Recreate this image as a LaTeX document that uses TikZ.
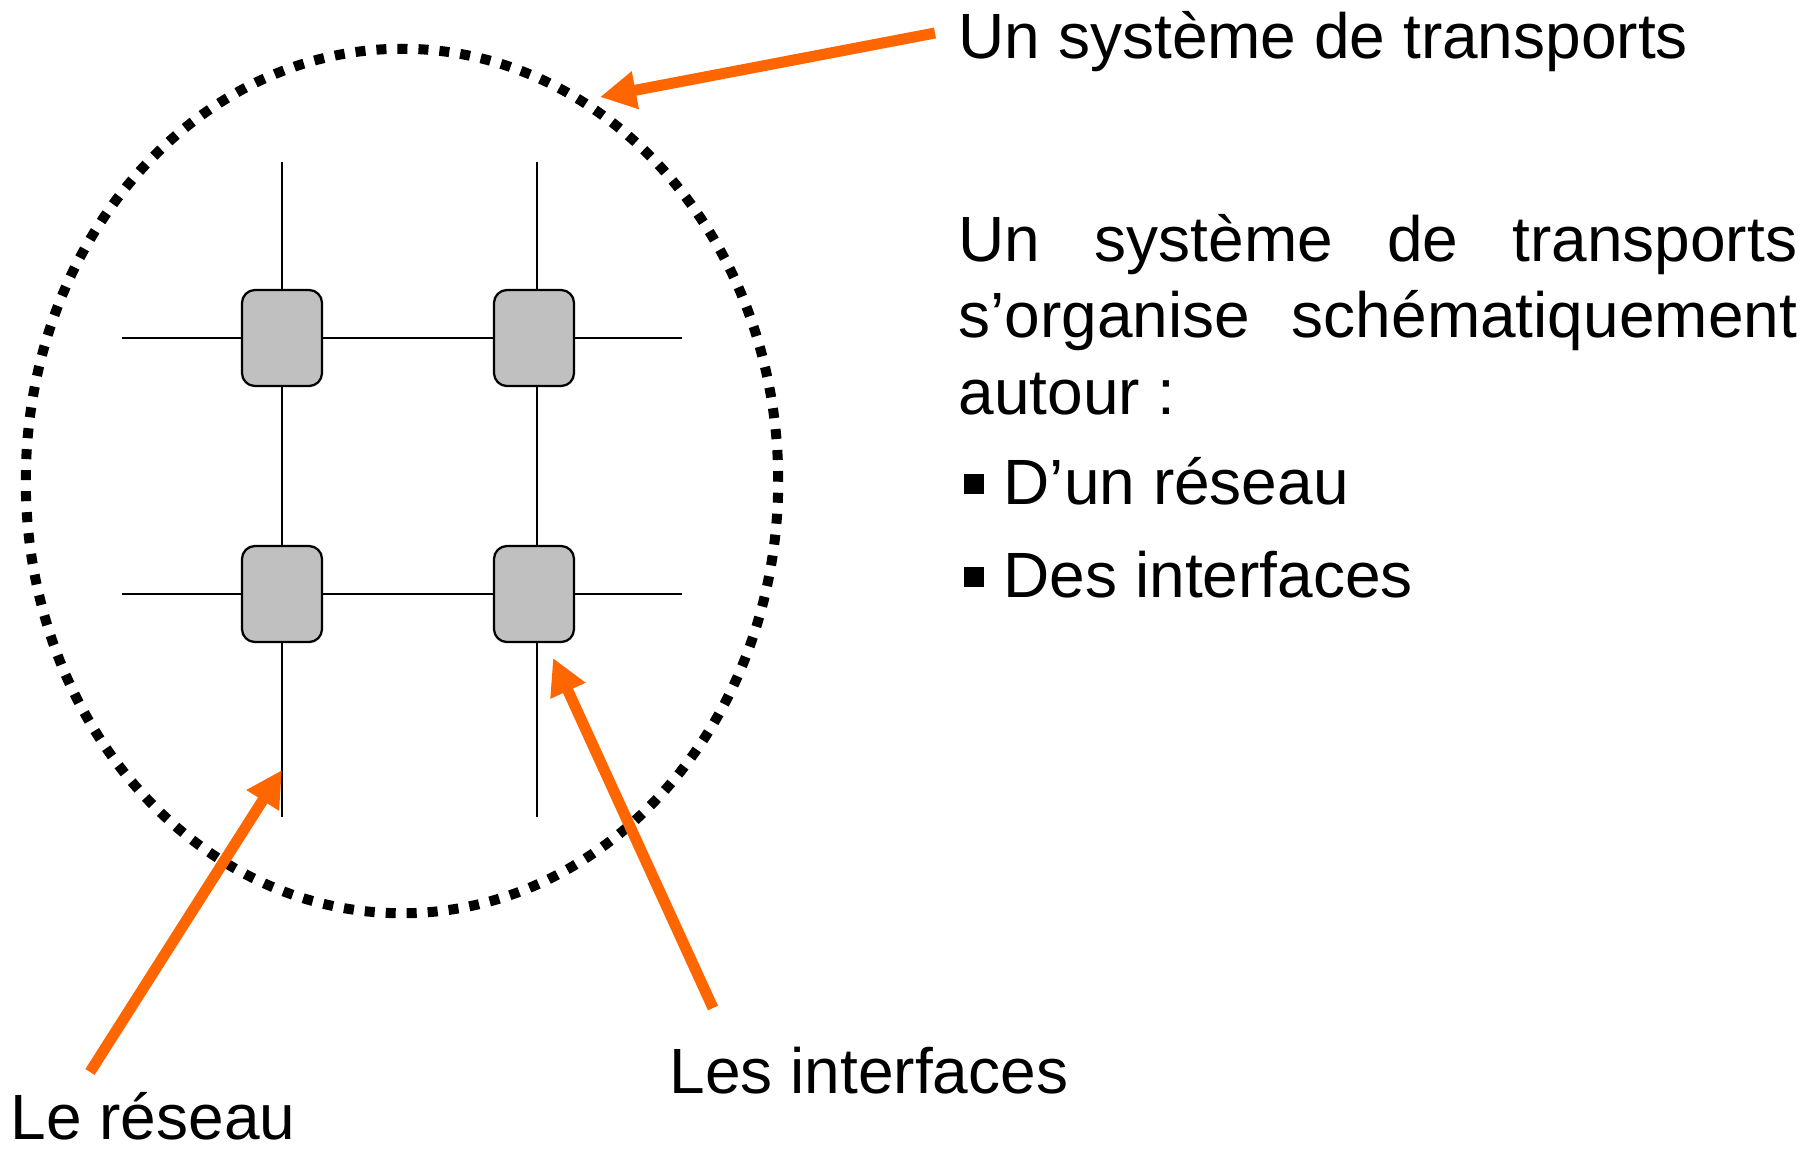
\documentclass[tikz,border=0pt]{standalone}
\usepackage{fontspec}
\setmainfont{Liberation Sans}
\usetikzlibrary{arrows.meta}
\definecolor{orangefleche}{RGB}{255,102,0}
\definecolor{grisnoeud}{RGB}{192,192,192}
\tikzset{
  texte/.style={inner sep=0pt, anchor=base west, font=\fontsize{18.2pt}{21.8pt}\selectfont},
  noeud/.style={draw, line width=0.65pt, fill=grisnoeud, rounded corners=0.13cm,
    minimum width=0.8cm, minimum height=0.96cm, inner sep=0pt},
  voie/.style={line width=0.5pt},
  fleche/.style={orangefleche, line width=0.11cm, -{Triangle[length=0.36cm,width=0.36cm]}}
}
\newcommand{\carre}{\rule[0.1cm]{0.2cm}{0.2cm}\hspace{0.2cm}}
\begin{document}
\begin{tikzpicture}[x=0.01cm, y=-0.01cm]
   \useasboundingbox (0,0) rectangle (1818,1148);
   % le systeme
   \draw[line width=0.1cm, dash pattern=on 0.1cm off 0.11cm] (402,481) ellipse [x radius=3.76cm, y radius=4.32cm];
   % le reseau
   \coordinate (v1h) at (282,162); \coordinate (v1b) at (282,817);
   \coordinate (v2h) at (537,162); \coordinate (v2b) at (537,817);
   \coordinate (h1g) at (122,338); \coordinate (h1d) at (682,338);
   \coordinate (h2g) at (122,594); \coordinate (h2d) at (682,594);
   \draw[voie] (v1h) -- (v1b);
   \draw[voie] (v2h) -- (v2b);
   \draw[voie] (h1g) -- (h1d);
   \draw[voie] (h2g) -- (h2d);
   % les interfaces
   \node[noeud] (i11) at (282,338) {};
   \node[noeud] (i12) at (534,338) {};
   \node[noeud] (i21) at (282,594) {};
   \node[noeud] (i22) at (534,594) {};
   % textes
   \node[texte] (titre) at (958,58) {Un système de transports};
   \node[texte, text width=8.38cm, align=justify] (para) at (958,261)
      {Un système de transports s’organise schématiquement autour~:};
   \node[texte] (pres) at (963,504) {\carre D’un réseau};
   \node[texte] (pint) at (963,597) {\carre Des interfaces};
   \node[texte] (lres) at (10,1139) {Le réseau};
   \node[texte] (lint) at (669,1093) {Les interfaces};
   % fleches
   \coordinate (qsys) at (935,33);   \coordinate (psys) at (600,97);
   \coordinate (qres) at (90,1072);  \coordinate (pres2) at (282,770);
   \coordinate (qint) at (713,1008); \coordinate (pint2) at (553,658);
   \draw[fleche] (qsys) -- (psys);
   \draw[fleche] (qres) -- (pres2);
   \draw[fleche] (qint) -- (pint2);
\end{tikzpicture}
\end{document}
